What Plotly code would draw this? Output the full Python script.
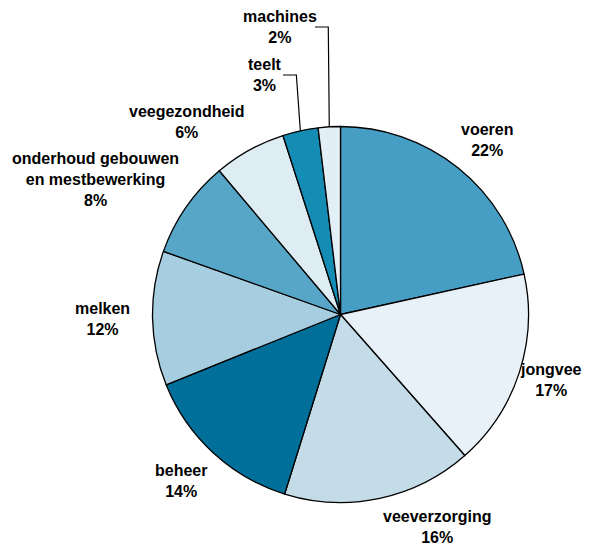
import math
import plotly.graph_objects as go

categories = ["voeren", "jongvee", "veeverzorging", "beheer", "melken",
              "onderhoud gebouwen<br>en mestbewerking", "veegezondheid", "teelt", "machines"]
values = [21.55, 16.95, 16.3, 14.1, 11.55, 8.4, 6.2, 3.05, 1.9]
colors = ["#479ec4", "#e8f1f8", "#c4dce8", "#006f99", "#a6cde0",
          "#57a6c7", "#deedf4", "#148cb4", "#e3eff6"]

W, H = 600, 546
CX, CY, R = 340.5, 314.5, 188  # pie centre / radius in pixels (layout)

# label text anchor positions (pixels, centre of text block)
label_pos = {
    "voeren": (487, 140),
    "jongvee": (551, 380),
    "veeverzorging": (437, 527),
    "beheer": (181, 481),
    "melken": (102, 319),
    "onderhoud gebouwen<br>en mestbewerking": (95, 180),
    "veegezondheid": (187, 122),
    "teelt": (265, 75),
    "machines": (280, 27),
}
leader = {"teelt": 283, "machines": 315}  # x of leader line start (pixels)

fig = go.Figure(go.Pie(
    labels=categories, values=values, sort=False, direction="clockwise", rotation=0,
    marker=dict(colors=colors, line=dict(color="black", width=1.3)),
    textinfo="none", hoverinfo="label+percent", showlegend=False,
    domain=dict(x=[(CX - R) / W, (CX + R) / W], y=[(H - CY - R) / H, (H - CY + R) / H]),
))

total = sum(values)
cum = 0
for cat, v in zip(categories, values):
    mid = (cum + v / 2) / total * 2 * math.pi
    cum += v
    lx, ly = label_pos[cat]
    pct = int(v / total * 100 + 0.5)
    fig.add_annotation(x=lx / W, y=1 - ly / H, xref="paper", yref="paper",
                       text="<b>%s<br>%d%%</b>" % (cat, pct),
                       showarrow=False, xanchor="center", yanchor="middle",
                       font=dict(family="Liberation Sans, Arial", size=16, color="black"))
    if cat in leader:
        ex = CX + R * math.sin(mid)
        ey = CY - R * math.cos(mid)
        x0 = leader[cat]
        y0 = ly
        xm = ex - 1 if cat == "machines" else ex - 4
        fig.add_shape(type="path", xref="paper", yref="paper",
                      path="M %f %f L %f %f L %f %f" % (
                          x0 / W, 1 - y0 / H, xm / W, 1 - y0 / H, ex / W, 1 - ey / H),
                      line=dict(color="black", width=1.2))

fig.update_layout(width=W, height=H, margin=dict(l=0, r=0, t=0, b=0),
                  paper_bgcolor="white", plot_bgcolor="white")
fig.write_html("out.html", config={"displayModeBar": False},
               post_script="document.body.style.margin='0';")
